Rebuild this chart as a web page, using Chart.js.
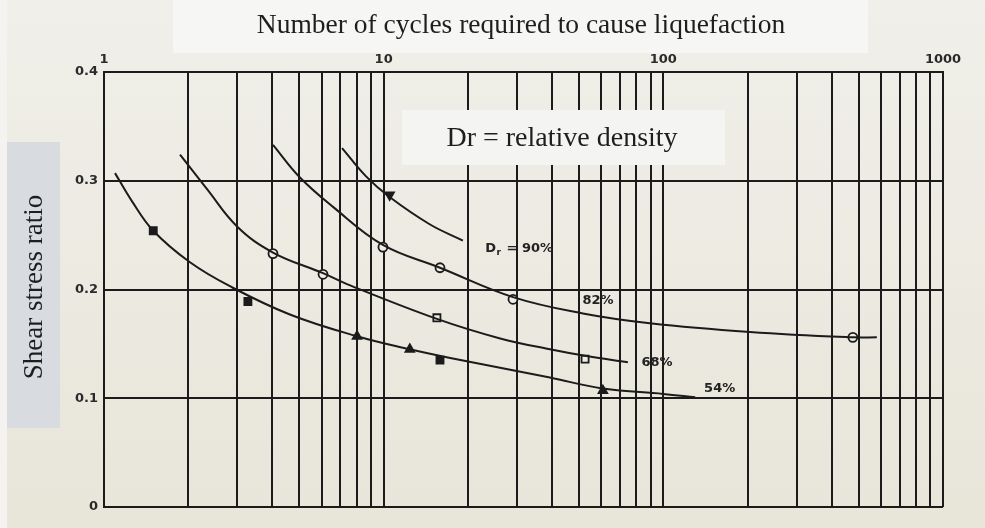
<!DOCTYPE html>
<html>
<head>
<meta charset="utf-8">
<title>Cycles to liquefaction</title>
<script src="https://cdn.jsdelivr.net/npm/chart.js@4.4.1/dist/chart.umd.min.js"></script>
<style>
    html, body { margin: 0; padding: 0; background: #eeede6; }
    #wrap { width: 985px; height: 528px; }
</style>
</head>
<body>
<div id="wrap"><canvas id="cyclesChart" width="985" height="528"></canvas></div>
<script>
// ============================
// Axis ticks
// ============================
const gridCycles = [1, 2, 3, 4, 5, 6, 7, 8, 9,
    10, 20, 30, 40, 50, 60, 70, 80, 90,
    100, 200, 300, 400, 500, 600, 700, 800, 900, 1000];
const labelledCycles = [1, 10, 100, 1000];
const ratioTicks = [0, 0.1, 0.2, 0.3, 0.4];

// ============================
// Curves (cycles, shear stress ratio)
// ============================
const dr90Cycles = [7.1, 8.65, 10.5, 14.6, 19.2];
const dr90Ratio  = [0.330, 0.304, 0.285, 0.260, 0.245];

const dr82Cycles = [4.02, 5.02, 6.59, 9.94, 15.9, 29.0, 51.6, 89.5, 204, 476, 580];
const dr82Ratio  = [0.333, 0.303, 0.276, 0.241, 0.220, 0.193, 0.178, 0.169, 0.161, 0.156, 0.156];

const dr68Cycles = [1.87, 2.34, 2.99, 4.02, 6.07, 7.39, 15.5, 26.1, 39.3, 52.5, 74.7];
const dr68Ratio  = [0.324, 0.292, 0.258, 0.234, 0.215, 0.205, 0.173, 0.155, 0.145, 0.139, 0.133];

const dr54Cycles = [1.095, 1.26, 1.50, 2.03, 2.82, 4.62, 8.03, 12.4, 17.3, 39.3, 60.8, 100, 130];
const dr54Ratio  = [0.307, 0.281, 0.254, 0.225, 0.203, 0.177, 0.157, 0.145, 0.137, 0.119, 0.109, 0.104, 0.101];

// ============================
// Test results
// ============================
const dr90TestCycles = [10.5];
const dr90TestRatio  = [0.287];

const dr82TestCycles = [9.94, 15.9, 29.0, 476];
const dr82TestRatio  = [0.239, 0.220, 0.191, 0.156];

const dr68CircleCycles = [4.02, 6.07];
const dr68CircleRatio  = [0.233, 0.214];
const dr68SquareCycles = [15.5, 52.5];
const dr68SquareRatio  = [0.174, 0.136];

const dr54SquareCycles = [1.50, 3.27, 15.9];
const dr54SquareRatio  = [0.254, 0.189, 0.135];
const dr54TriangleCycles = [8.03, 12.4, 60.8];
const dr54TriangleRatio  = [0.157, 0.145, 0.107];

// curve names and where they sit
const curveNames  = ["90%", "82%", "68%", "54%"];
const nameCycles  = [30.5, 58.4, 94.9, 159];
const nameRatio   = [0.238, 0.190, 0.133, 0.109];

const ink = "#1b1b1b";
const paper = "#eeede6";

function zip(xs, ys) {
    return xs.map((x, i) => ({ x: x, y: ys[i] }));
}

function curve(xs, ys) {
    return {
        data: zip(xs, ys),
        showLine: true,
        borderColor: ink,
        borderWidth: 2,
        pointRadius: 0,
        tension: 0.4,
        fill: false
    };
}

function marks(xs, ys, style, filled, rotation) {
    return {
        data: zip(xs, ys),
        showLine: false,
        pointStyle: style,
        rotation: rotation || 0,
        pointRadius: style === "circle" ? 4.5 : 5,
        borderWidth: 1.8,
        borderColor: ink,
        backgroundColor: filled ? ink : paper
    };
}

// ============================
// Paper, boxes and text
// ============================
const sheet = {
    id: "sheet",
    beforeDraw(chart) {
        const ctx = chart.ctx;
        const g = ctx.createLinearGradient(0, 0, 0, chart.height);
        g.addColorStop(0, "#f0efe9");
        g.addColorStop(1, "#e8e5d9");
        ctx.save();
        ctx.fillStyle = g;
        ctx.fillRect(0, 0, chart.width, chart.height);
        ctx.fillStyle = "#f4f3ef";
        ctx.fillRect(0, 0, 7, chart.height);
        ctx.restore();
    },
    afterDraw(chart) {
        const ctx = chart.ctx;
        const x = chart.scales.x;
        const y = chart.scales.y;
        ctx.save();

        // curve names
        ctx.fillStyle = "#222";
        ctx.font = "bold 13px 'DejaVu Sans'";
        ctx.textBaseline = "middle";
        curveNames.forEach((name, i) => {
            const px = x.getPixelForValue(nameCycles[i]);
            const py = y.getPixelForValue(nameRatio[i]);
            if (i === 0) {
                const text = " = " + name;
                const w = ctx.measureText("D").width + 6 + ctx.measureText(text).width;
                let left = px - w / 2;
                ctx.textAlign = "left";
                ctx.fillText("D", left, py);
                left += ctx.measureText("D").width;
                ctx.font = "bold 9px 'DejaVu Sans'";
                ctx.fillText("r", left + 0.5, py + 4);
                ctx.font = "bold 13px 'DejaVu Sans'";
                ctx.fillText(text, left + 6, py);
            } else {
                ctx.textAlign = "center";
                ctx.fillText(name, px, py);
            }
        });

        // title box
        ctx.fillStyle = "#f6f6f4";
        ctx.fillRect(173, 0, 695, 53);
        ctx.fillStyle = "#1e1e1e";
        ctx.font = "27.5px 'Liberation Serif'";
        ctx.textAlign = "center";
        ctx.textBaseline = "middle";
        ctx.fillText("Number of cycles required to cause liquefaction", 521, 26);

        // legend note
        ctx.fillStyle = "#f4f4f2";
        ctx.fillRect(402, 110, 323, 55);
        ctx.fillStyle = "#1e1e1e";
        ctx.font = "28px 'Liberation Serif'";
        ctx.fillText("Dr = relative density", 562, 139);

        // y axis title
        ctx.fillStyle = "#d8dbe0";
        ctx.fillRect(7, 142, 53, 286);
        ctx.translate(35, 287);
        ctx.rotate(-Math.PI / 2);
        ctx.fillStyle = "#1e1e1e";
        ctx.font = "27px 'Liberation Serif'";
        ctx.fillText("Shear stress ratio", 0, 0);

        ctx.restore();
    }
};

document.addEventListener("DOMContentLoaded", function () {

    if (typeof Chart === "undefined") return;

    const canvas = document.getElementById("cyclesChart");

    new Chart(canvas, {
        type: "scatter",
        data: {
            datasets: [
                curve(dr90Cycles, dr90Ratio),
                curve(dr82Cycles, dr82Ratio),
                curve(dr68Cycles, dr68Ratio),
                curve(dr54Cycles, dr54Ratio),
                marks(dr90TestCycles, dr90TestRatio, "triangle", true, 180),
                marks(dr82TestCycles, dr82TestRatio, "circle", false),
                marks(dr68CircleCycles, dr68CircleRatio, "circle", false),
                marks(dr68SquareCycles, dr68SquareRatio, "rect", false),
                marks(dr54SquareCycles, dr54SquareRatio, "rect", true),
                marks(dr54TriangleCycles, dr54TriangleRatio, "triangle", true)
            ]
        },
        options: {
            responsive: false,
            animation: false,
            layout: {
                padding: { left: 0, top: 0, right: 42, bottom: 21 }
            },
            plugins: {
                legend: { display: false },
                tooltip: { enabled: false }
            },
            scales: {
                x: {
                    type: "logarithmic",
                    position: "top",
                    min: 1,
                    max: 1000,
                    afterBuildTicks: (s) => {
                        s.ticks = gridCycles.map(v => ({ value: v }));
                    },
                    afterFit: (s) => { s.height = 72; },
                    grid: {
                        color: ink,
                        lineWidth: 2,
                        drawTicks: false
                    },
                    border: { color: ink, width: 2 },
                    ticks: {
                        autoSkip: false,
                        maxRotation: 0,
                        padding: 5,
                        color: "#2a2a2a",
                        font: { family: "DejaVu Sans", size: 13, weight: "bold" },
                        callback: (v) => labelledCycles.includes(v) ? String(v) : ""
                    }
                },
                y: {
                    min: 0,
                    max: 0.4,
                    afterBuildTicks: (s) => {
                        s.ticks = ratioTicks.map(v => ({ value: v }));
                    },
                    afterFit: (s) => { s.width = 104; },
                    grid: {
                        color: ink,
                        lineWidth: 2,
                        drawTicks: false
                    },
                    border: { color: ink, width: 2 },
                    ticks: {
                        padding: 6,
                        color: "#2a2a2a",
                        font: { family: "DejaVu Sans", size: 13, weight: "bold" },
                        callback: (v) => v === 0 ? "0" : v.toFixed(1)
                    }
                }
            }
        },
        plugins: [sheet]
    });
});
</script>
</body>
</html>
